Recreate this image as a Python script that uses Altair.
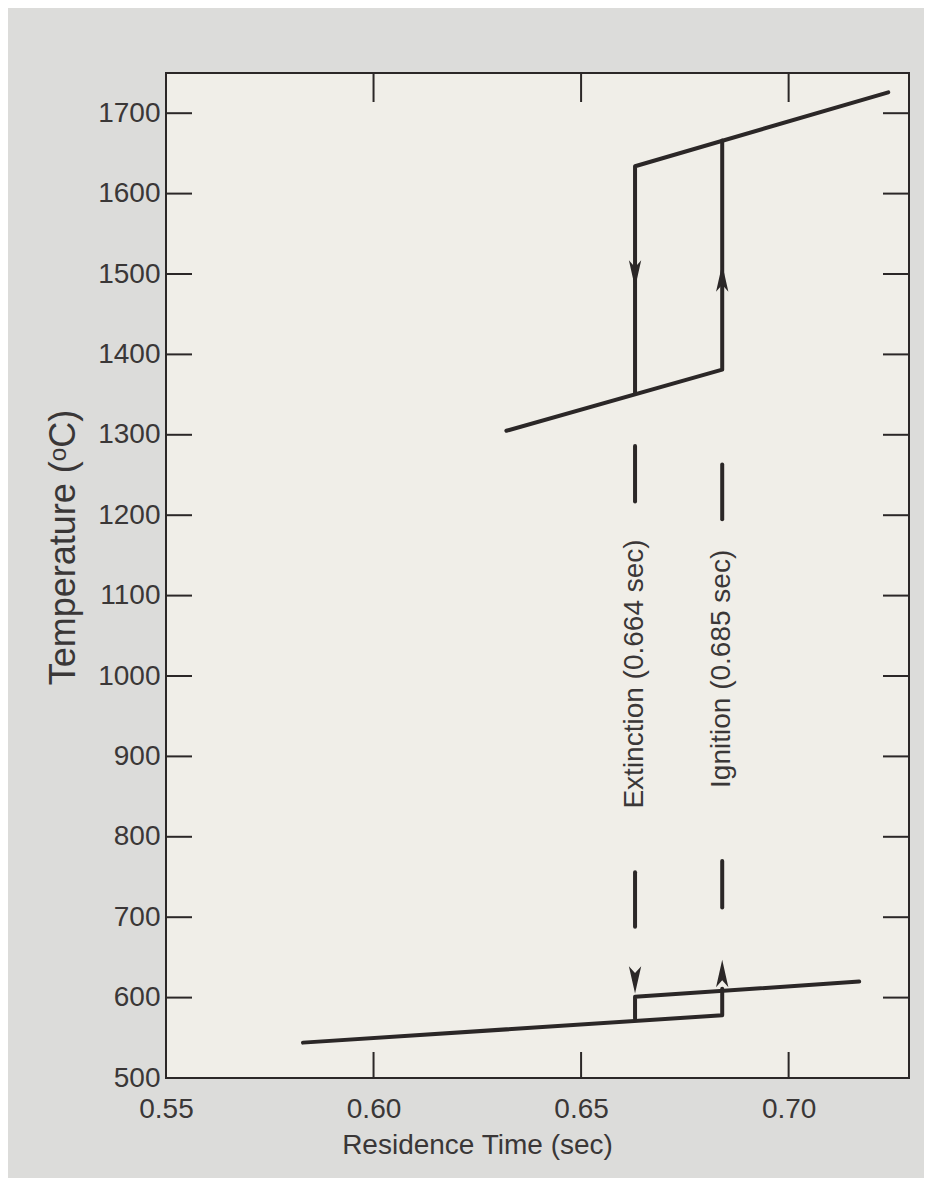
import altair as alt
import pandas as pd

# ---- data ----
# ignited (high-temperature) branch
hi_low_x = [0.632, 0.684, 0.684]
hi_low_T = [1305, 1381, 1666]
hi_up_x = [0.663, 0.663, 0.724]
hi_up_T = [1352, 1634, 1726]
# extinguished (low-temperature) branch
lo_low_x = [0.583, 0.684, 0.684]
lo_low_T = [544, 578, 611]
lo_up_x = [0.663, 0.663, 0.717]
lo_up_T = [574, 601, 620]

# dashed guide segments
dash_x = [0.663, 0.663, 0.684, 0.684]
dash_T1 = [1217, 688, 1195, 712]
dash_T2 = [1286, 756, 1263, 770]

# arrow heads
arrow_down_x = [0.663, 0.663]
arrow_down_T = [1500, 622]
arrow_up_x = [0.684, 0.684]
arrow_up_T = [1495, 630]

# annotations
label_text = ["Extinction (0.664 sec)", "Ignition (0.685 sec)"]
label_x = [0.663, 0.684]
label_T = [1170, 1157]

x_tick_values = [0.55, 0.60, 0.65, 0.70]
x_inner_ticks = [0.60, 0.65, 0.70]
y_tick_values = [500, 600, 700, 800, 900, 1000, 1100, 1200, 1300, 1400, 1500, 1600, 1700]
y_inner_ticks = [600, 700, 800, 900, 1000, 1100, 1200, 1300, 1400, 1500, 1600, 1700]

W, H = 743, 1005
INK = "#2b2727"
TXT = "#3a3737"
FONT = "Liberation Sans"

rows = []
for name, xs, ts in [("hi_low", hi_low_x, hi_low_T), ("hi_up", hi_up_x, hi_up_T),
                     ("lo_low", lo_low_x, lo_low_T), ("lo_up", lo_up_x, lo_up_T)]:
    for i, (x, t) in enumerate(zip(xs, ts)):
        rows.append({"seg": name, "i": i, "x": x, "T": t})
lines_df = pd.DataFrame(rows)
dash_df = pd.DataFrame({"x": dash_x, "T1": dash_T1, "T2": dash_T2})
down_df = pd.DataFrame({"x": arrow_down_x, "T": arrow_down_T})
up_df = pd.DataFrame({"x": arrow_up_x, "T": arrow_up_T})
lab_df = pd.DataFrame({"text": label_text, "x": label_x, "T": label_T})
xt_df = pd.DataFrame({"x": x_inner_ticks})
yt_df = pd.DataFrame({"T": y_inner_ticks})

xscale = alt.Scale(domain=[0.55, 0.729], nice=False, zero=False)
yscale = alt.Scale(domain=[500, 1750], nice=False, zero=False)

X = alt.X("x:Q", scale=xscale, title="Residence Time (sec)",
          axis=alt.Axis(values=x_tick_values, format=".2f", ticks=False, tickSize=0,
                        domain=False, grid=False, labelPadding=17, labelFontSize=28,
                        labelFont=FONT, labelColor=TXT, labelFlush=False,
                        titleFontSize=28, titleFont=FONT, titleColor=TXT,
                        titleFontWeight="normal", titleX=311, titleY=75,
                        titleBaseline="alphabetic", titleAnchor="middle"))
Y = alt.Y("T:Q", scale=yscale, title="Temperature (ᵒC)",
          axis=alt.Axis(values=y_tick_values, format="d", ticks=False, tickSize=0, domain=False,
                        grid=False, labelPadding=6, labelFontSize=28, labelFont=FONT,
                        labelColor=TXT, labelFlush=False, titleFontSize=36, titleFont=FONT,
                        titleColor=TXT, titleFontWeight="normal", titleX=-103, titleY=474,
                        titleAngle=270, titleBaseline="middle", titleAnchor="middle"))

lines = alt.Chart(lines_df).mark_line(color=INK, strokeWidth=4, strokeCap="round",
                                      strokeJoin="round").encode(
    x=X, y=Y, detail="seg:N", order="i:Q")

dashes = alt.Chart(dash_df).mark_rule(color=INK, strokeWidth=4, strokeCap="round").encode(
    x=alt.X("x:Q", scale=xscale), y=alt.Y("T1:Q", scale=yscale), y2="T2:Q")

down = alt.Chart(down_df).mark_point(
    shape="M0,1 L-0.45,-1 L0,-0.5 L0.45,-1 Z", filled=True, size=750, color=INK,
    opacity=1).encode(x=alt.X("x:Q", scale=xscale), y=alt.Y("T:Q", scale=yscale))
up = alt.Chart(up_df).mark_point(
    shape="M0,-1 L-0.45,1 L0,0.5 L0.45,1 Z", filled=True, size=750, color=INK,
    opacity=1).encode(x=alt.X("x:Q", scale=xscale), y=alt.Y("T:Q", scale=yscale))

labels = alt.Chart(lab_df).mark_text(angle=270, align="right", baseline="middle",
                                     fontSize=28, font=FONT, color=TXT).encode(
    x=alt.X("x:Q", scale=xscale), y=alt.Y("T:Q", scale=yscale), text="text:N")

yt_left = alt.Chart(yt_df).mark_rule(color=INK, strokeWidth=2).encode(
    y=alt.Y("T:Q", scale=yscale), x=alt.value(0), x2=alt.value(26))
yt_right = alt.Chart(yt_df).mark_rule(color=INK, strokeWidth=2).encode(
    y=alt.Y("T:Q", scale=yscale), x=alt.value(W - 26), x2=alt.value(W))
xt_bottom = alt.Chart(xt_df).mark_rule(color=INK, strokeWidth=2).encode(
    x=alt.X("x:Q", scale=xscale), y=alt.value(H - 26), y2=alt.value(H))
xt_top = alt.Chart(xt_df).mark_rule(color=INK, strokeWidth=2).encode(
    x=alt.X("x:Q", scale=xscale), y=alt.value(0), y2=alt.value(29))

chart = alt.layer(lines, dashes, down, up, labels, yt_left, yt_right, xt_bottom, xt_top).properties(
    width=W, height=H,
    autosize=alt.AutoSizeParams(type="none"),
    padding={"left": 158, "top": 65, "right": 15, "bottom": 100},
    background="#dcdcda",
).configure_view(fill="#f0eee8", stroke=INK, strokeWidth=2)

chart.save("out.html", embed_options={"renderer": "svg", "actions": False})
